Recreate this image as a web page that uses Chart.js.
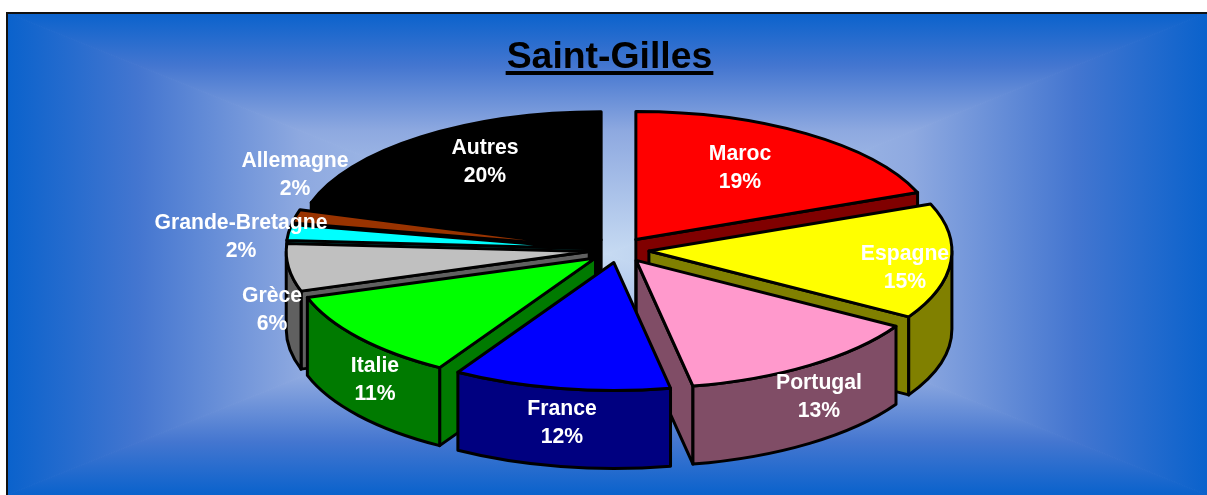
<!DOCTYPE html>
<html>
<head>
<meta charset="utf-8">
<title>Saint-Gilles</title>
<script src="https://cdn.jsdelivr.net/npm/chart.js@4"></script>
<style>
    html, body { margin: 0; background: #fff; }
    canvas { display: block; }
</style>
</head>
<body>
<canvas id="chart" width="1207" height="495"></canvas>
<script>
// data, estimated from the slice corners; labels show them rounded
const categories = ['Maroc', 'Espagne', 'Portugal', 'France', 'Italie', 'Grèce', 'Grande-Bretagne', 'Allemagne', 'Autres'];
const shares = [19, 14.6, 13.4, 11.6, 11.4, 6, 2, 1.7, 20.3];

// colours
const topColors = ['#ff0000', '#ffff00', '#ff99cc', '#0000ff', '#00ff00', '#c0c0c0', '#00ffff', '#993300', '#000000'];
const sideColors = ['#800000', '#808000', '#804d66', '#000080', '#007a00', '#606060', '#008080', '#4d1a00', '#000000'];

// layout
const pieX = 619, pieY = 250, tilt = 0.4224, depth = 78, explode = 30;
const labelSpots = [[740, 167], [905, 267], [819, 396], [562, 422], [375, 379], [272, 309], [241, 236], [295, 174], [485, 161]];
const bgStops = [[0, '#0a62cc'], [0.22, '#4476d0'], [0.49, '#8ea9e0'], [1, '#c6daf2']];
const frame = { left: 7, top: 13, right: 1207, bottom: 495, cx: 607, cy: 254 };

function paintBackground(ctx) {
    const f = frame;
    const sides = [
        [f.left, f.top, f.right, f.top, f.cx, f.top],
        [f.right, f.top, f.right, f.bottom, f.right, f.cy],
        [f.right, f.bottom, f.left, f.bottom, f.cx, f.bottom],
        [f.left, f.bottom, f.left, f.top, f.left, f.cy],
    ];
    sides.forEach(([x1, y1, x2, y2, gx, gy]) => {
        const g = ctx.createLinearGradient(gx, gy, f.cx, f.cy);
        bgStops.forEach(([t, c]) => g.addColorStop(t, c));
        ctx.beginPath();
        ctx.moveTo(x1, y1);
        ctx.lineTo(x2, y2);
        ctx.lineTo(f.cx, f.cy);
        ctx.closePath();
        ctx.fillStyle = g;
        ctx.fill();
        ctx.strokeStyle = g;
        ctx.lineWidth = 1;
        ctx.stroke();
    });
    ctx.fillStyle = '#111';
    ctx.fillRect(f.left - 1, f.top - 1, f.right - f.left + 1, 2);
    ctx.fillRect(f.left - 1, f.top - 1, 2, f.bottom - f.top + 1);
}

function drawSlice(ctx, arc, i) {
    const R = arc.outerRadius, a = arc.startAngle, b = arc.endAngle;
    const mid = (a + b) / 2;
    const tipX = pieX + explode * Math.cos(mid);
    const tipY = pieY + explode * tilt * Math.sin(mid);
    const rimX = t => tipX + R * Math.cos(t);
    const rimY = t => tipY + R * tilt * Math.sin(t);

    ctx.lineWidth = 3;
    ctx.lineJoin = 'round';
    ctx.strokeStyle = '#000';
    ctx.fillStyle = sideColors[i];

    // cut faces, only those turned to the viewer
    [[a, -Math.cos(a) > 0], [b, Math.cos(b) > 0]].forEach(([t, visible]) => {
        if (!visible) return;
        ctx.beginPath();
        ctx.moveTo(tipX, tipY);
        ctx.lineTo(rimX(t), rimY(t));
        ctx.lineTo(rimX(t), rimY(t) + depth);
        ctx.lineTo(tipX, tipY + depth);
        ctx.closePath();
        ctx.fill();
        ctx.stroke();
    });

    // outer wall, front half of the ellipse only
    const from = Math.max(a, 0), to = Math.min(b, Math.PI);
    if (to > from) {
        ctx.beginPath();
        ctx.ellipse(tipX, tipY, R, R * tilt, 0, from, to);
        ctx.lineTo(rimX(to), rimY(to) + depth);
        ctx.ellipse(tipX, tipY + depth, R, R * tilt, 0, to, from, true);
        ctx.closePath();
        ctx.fill();
        ctx.stroke();
    }

    // top face: the chart's own arc, squashed and moved out
    ctx.save();
    ctx.translate(tipX, tipY);
    ctx.scale(1, tilt);
    ctx.translate(-arc.x, -arc.y);
    arc.draw(ctx);
    ctx.restore();

    ctx.beginPath();
    ctx.moveTo(tipX, tipY);
    ctx.ellipse(tipX, tipY, R, R * tilt, 0, a, b);
    ctx.closePath();
    ctx.stroke();
}

const pie3d = {
    id: 'pie3d',
    beforeDraw(chart) {
        paintBackground(chart.ctx);
    },
    beforeDatasetDraw() {
        return false;
    },
    afterDatasetsDraw(chart) {
        const ctx = chart.ctx;
        const arcs = chart.getDatasetMeta(0).data;
        const order = arcs.map((_, i) => i).sort((p, q) => {
            const s = n => Math.sin((arcs[n].startAngle + arcs[n].endAngle) / 2);
            return s(p) - s(q);
        });
        ctx.save();
        order.forEach(i => drawSlice(ctx, arcs[i], i));

        // data labels
        ctx.font = 'bold 21.2px "Liberation Sans", Arial, sans-serif';
        ctx.fillStyle = '#fff';
        ctx.textAlign = 'center';
        ctx.textBaseline = 'middle';
        categories.forEach((name, i) => {
            const [x, y] = labelSpots[i];
            ctx.fillText(name, x, y - 13);
            ctx.fillText(Math.round(shares[i]) + '%', x, y + 15);
        });

        // title underline, the title plugin has none
        const t = chart.titleBlock;
        ctx.font = 'bold 37.4px "Liberation Sans", Arial, sans-serif';
        const w = ctx.measureText(t.options.text).width + 2;
        ctx.fillStyle = '#000';
        ctx.fillRect((t.left + t.right) / 2 - w / 2, 71, w, 4);
        ctx.restore();
    }
};

new Chart(document.getElementById('chart'), {
    type: 'pie',
    data: {
        labels: categories,
        datasets: [{
            data: shares,
            backgroundColor: topColors,
            borderWidth: 0,
            radius: 303,
        }]
    },
    options: {
        responsive: false,
        animation: false,
        layout: { padding: { left: 12 } },
        plugins: {
            legend: { display: false },
            tooltip: { enabled: false },
            title: {
                display: true,
                text: 'Saint-Gilles',
                color: '#000',
                font: { family: '"Liberation Sans", Arial, sans-serif', size: 37.4, weight: 'bold' },
                padding: { top: 35, bottom: 7 },
            },
        }
    },
    plugins: [pie3d]
});
</script>
</body>
</html>
